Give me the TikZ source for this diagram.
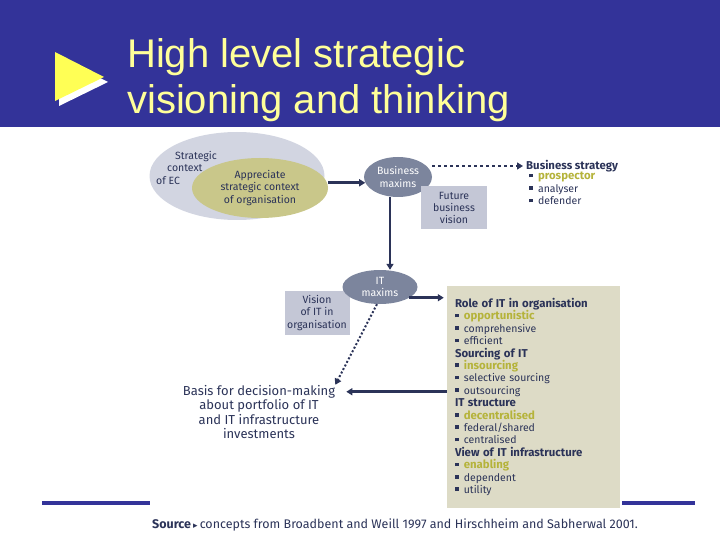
\documentclass[tikz,border=0pt]{standalone}
\usepackage{fontspec}
\setmainfont{Liberation Sans}
\newfontfamily\figfont{Fira Sans}
\newfontfamily\symfont{DejaVu Sans}
\usetikzlibrary{positioning,shapes.geometric,arrows.meta}

\definecolor{band}{HTML}{333399}
\definecolor{titleyellow}{HTML}{FFFF99}
\definecolor{arrowyellow}{HTML}{FFFF55}
\definecolor{ink}{HTML}{2B3358}
\definecolor{slate}{HTML}{7C859D}
\definecolor{mist}{HTML}{D2D5E1}
\definecolor{sage}{HTML}{C9C78A}
\definecolor{boxgray}{HTML}{C4C7D6}
\definecolor{panelfill}{HTML}{DDDBC6}
\definecolor{pickcol}{HTML}{B5B33A}

\newcommand{\bul}{\rule[0.45ex]{0.65ex}{0.65ex}\hspace{0.5em}}
\newcommand{\hd}[1]{{\fontsize{11.4}{12.4}\selectfont\bfseries #1}}
\newcommand{\chosen}[1]{\textcolor{pickcol}{\hd{#1}}}

\begin{document}
\begin{tikzpicture}[x=1pt,y=-1pt,
  txt/.style={font=\figfont\fontsize{10.5}{12.5}\selectfont,text=ink,inner sep=0pt,align=center},
  maxim/.style={ellipse,fill=slate,txt,text=white},
  vbox/.style={rectangle,fill=boxgray,txt},
  link/.style={draw=ink,line width=2.6pt,-{Triangle[length=6pt,width=7pt]}},
  dashlink/.style={link,line width=1.4pt,dashed},
  dotlink/.style={link,line width=2pt,dotted}]
\useasboundingbox (0,0) rectangle (720,540);

% title band
\fill[band] (0,0) rectangle (720,127);
\fill[white] (59,57) -- (108,82) -- (59,106) -- cycle;
\fill[arrowyellow] (55,52) -- (104,77) -- (55,101) -- cycle;
\node[anchor=north west,inner sep=0pt,align=left,text=titleyellow,
  font=\fontsize{40}{46}\selectfont] (title) at (127,38) {High level strategic\\visioning and thinking};

% strategic context
\node[ellipse,fill=mist,minimum width=175pt,minimum height=88pt] (ec) at (237,176) {};
\node[txt,align=left,anchor=north west] (ectext) at (156,151)
  {\hspace*{19pt}Strategic\\\hspace*{11pt}context\\of EC};
\node[ellipse,fill=sage,minimum width=136pt,minimum height=60pt,txt] (app) at (260,188)
  {Appreciate\\strategic context\\of organisation};

% business level
\node[maxim,minimum width=68pt,minimum height=40pt] (bm) at (398,177) {Business\\maxims};
\node[vbox,minimum width=66pt,minimum height=43pt,font=\figfont\fontsize{10.5}{11.8}\selectfont] (fbv) at (454,208) {Future\\business\\vision};
\node[txt,anchor=west] (strat) at (526,166) {\hd{Business strategy}};
\node[txt,align=left,below right=0pt and 3pt of strat.south west] (stratlist)
  {\bul\chosen{prospector}\\\bul analyser\\\bul defender};

% IT level
\node[vbox,minimum width=65pt,minimum height=44pt] (vit) at (317,313) {Vision\\of IT in\\organisation};
\node[maxim,minimum width=75pt,minimum height=34pt] (it) at (380,287) {IT\\maxims};
\node[txt,font=\figfont\fontsize{13}{14.6}\selectfont] (basis) at (259,412)
  {Basis for decision-making\\about portfolio of IT\\and IT infrastructure\\investments};
\node[fill=panelfill,minimum width=173pt,minimum height=222pt,text width=157pt,
  inner xsep=8pt,txt,font=\figfont\fontsize{10.5}{12.4}\selectfont,align=left] (panel) at (533.5,397)
  {\hd{Role of IT in organisation}\\
   \bul\chosen{opportunistic}\\\bul comprehensive\\\bul efficient\\
   \hd{Sourcing of IT}\\
   \bul\chosen{insourcing}\\\bul selective sourcing\\\bul outsourcing\\
   \hd{IT structure}\\
   \bul\chosen{decentralised}\\\bul federal/shared\\\bul centralised\\
   \hd{View of IT infrastructure}\\
   \bul\chosen{enabling}\\\bul dependent\\\bul utility};

% connectors
\draw[link] (app.east |- bm.190) -- (bm.190);
\draw[dashlink,shorten >=3pt] (bm.east |- strat.west) -- (strat.west);
\draw[link] (390,0 |- bm.south) -- (390,0 |- it.north);
\draw[link,shorten >=3pt] (it.-20) -- (it.-20 -| panel.west);
\draw[dotlink] (it.-100) -- (basis.north east);
\coordinate (bin) at ([xshift=11pt,yshift=-7pt]basis.north east);
\draw[link] (bin -| panel.west) -- (bin);

% footer
\draw[band,line width=4pt] (42,503) -- (150,503);
\draw[band,line width=4pt] (622,503) -- (695,503);
\node[txt,anchor=base west,font=\figfont\fontsize{12.5}{14}\selectfont] (src) at (152,528)
  {\textbf{Source}\,{\symfont\small ▸}\,concepts from Broadbent and Weill 1997 and Hirschheim and Sabherwal 2001.};
\end{tikzpicture}
\end{document}
